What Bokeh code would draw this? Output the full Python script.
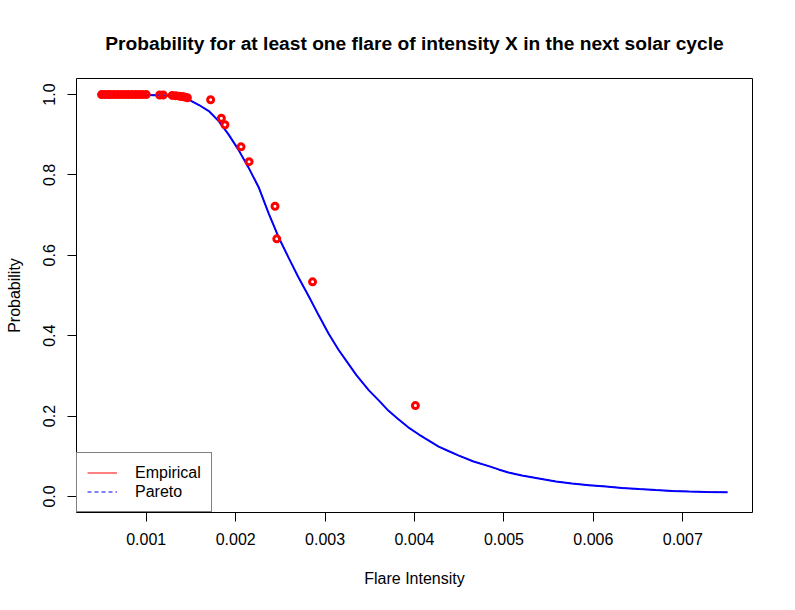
from bokeh.plotting import figure
from bokeh.models import FixedTicker, PrintfTickFormatter, Legend, LegendItem, Range1d
from bokeh.embed import file_html
from bokeh.resources import INLINE

# ---- data ----
curve_x = [0.0005, 0.0008, 0.0010, 0.0012, 0.0013, 0.00136, 0.00147, 0.00159, 0.00170, 0.00181,
           0.00192, 0.00203, 0.00214, 0.00226, 0.00237, 0.00248, 0.00259, 0.00270, 0.00282, 0.00293,
           0.00304, 0.00315, 0.00322, 0.00335, 0.00349, 0.00360, 0.00371, 0.00382, 0.00393, 0.00405,
           0.00416, 0.00427, 0.00436, 0.00449, 0.00466, 0.00483, 0.00494, 0.00505, 0.00520, 0.00539,
           0.00558, 0.00576, 0.00595, 0.00614, 0.00632, 0.00651, 0.00670, 0.00688, 0.00707, 0.00726,
           0.0075]
curve_y = [1.000, 1.000, 0.999, 0.998, 0.997, 0.994, 0.988, 0.974, 0.959, 0.934,
           0.901, 0.863, 0.820, 0.768, 0.704, 0.645, 0.595, 0.546, 0.497, 0.450,
           0.405, 0.365, 0.343, 0.302, 0.264, 0.239, 0.213, 0.192, 0.172, 0.154,
           0.139, 0.124, 0.115, 0.102, 0.087, 0.0754, 0.0672, 0.0597, 0.0523, 0.0448,
           0.0373, 0.0323, 0.0281, 0.0249, 0.0210, 0.0182, 0.0157, 0.0135, 0.0122, 0.0112,
           0.0105]

emp_x = [0.0005, 0.00053, 0.00057, 0.0006, 0.00064, 0.00068, 0.00072, 0.00076, 0.0008, 0.00084,
         0.00088, 0.00092, 0.00096, 0.001, 0.00115, 0.00119, 0.00129, 0.00133, 0.00137, 0.0014,
         0.00143, 0.00146, 0.00172, 0.00184, 0.00188, 0.00206, 0.00215, 0.00244, 0.00246, 0.00286,
         0.00401]
emp_y = [1.0, 1.0, 1.0, 1.0, 1.0, 1.0, 1.0, 1.0, 1.0, 1.0,
         1.0, 1.0, 1.0, 1.0, 0.999, 0.999, 0.998, 0.997, 0.996, 0.995,
         0.994, 0.992, 0.987, 0.941, 0.925, 0.870, 0.833, 0.722, 0.641, 0.534,
         0.226]

x_ticks = [0.001, 0.002, 0.003, 0.004, 0.005, 0.006, 0.007]
y_ticks = [0.0, 0.2, 0.4, 0.6, 0.8, 1.0]

title_text = "Probability for at least one flare of intensity X in the next solar cycle"
x_label = "Flare Intensity"
y_label = "Probability"
legend_labels = ["Empirical", "Pareto"]

FONT = "Liberation Sans"

p = figure(width=779, height=594,
           x_range=Range1d(0.00022, 0.00778), y_range=Range1d(-0.04, 1.04),
           output_backend="svg", toolbar_location=None,
           min_border_left=76, min_border_right=27, min_border_top=78, min_border_bottom=82)

p.title.text = title_text
p.title.text_font = FONT
p.title.text_font_size = "19.2px"
p.title.text_font_style = "bold"
p.title.text_color = "black"
p.title.align = "center"
p.title.vertical_align = "top"
p.title.standoff = 45

p.grid.visible = False
p.outline_line_color = "black"
p.outline_line_width = 1
p.background_fill_color = "white"
p.border_fill_color = "white"

for ax in (p.xaxis[0], p.yaxis[0]):
    ax.axis_line_color = None
    ax.major_tick_out = 9
    ax.major_tick_in = 0
    ax.minor_tick_out = 0
    ax.minor_tick_in = 0
    ax.major_tick_line_color = "black"
    ax.major_label_text_font = FONT
    ax.major_label_text_font_size = "16px"
    ax.major_label_text_color = "black"
    ax.axis_label_text_font = FONT
    ax.axis_label_text_font_size = "16px"
    ax.axis_label_text_font_style = "normal"
    ax.axis_label_text_color = "black"

p.xaxis.ticker = FixedTicker(ticks=x_ticks)
p.xaxis.formatter = PrintfTickFormatter(format="%.3f")
p.xaxis.axis_label = x_label
p.xaxis.major_label_standoff = 11
p.xaxis.axis_label_standoff = 22

p.yaxis.ticker = FixedTicker(ticks=y_ticks)
p.yaxis.formatter = PrintfTickFormatter(format="%.1f")
p.yaxis.axis_label = y_label
p.yaxis.major_label_orientation = "vertical"
p.yaxis.major_label_standoff = 12
p.yaxis.axis_label_standoff = 18

# legend sample lines (drawn underneath the fitted curve, hidden by it)
r_emp = p.line(curve_x, curve_y, line_color="red", line_width=1)
r_par = p.line(curve_x, curve_y, line_color="blue", line_width=1, line_dash="4 3")

# fitted curve
p.line(curve_x, curve_y, line_color="blue", line_width=2)
# empirical points
p.scatter(emp_x, emp_y, marker="circle", size=6, line_color="red", line_width=3, fill_color=None)

legend = Legend(items=[LegendItem(label=legend_labels[0], renderers=[r_emp]),
                       LegendItem(label=legend_labels[1], renderers=[r_par])],
                location="bottom_left", margin=0, padding=10, spacing=0,
                glyph_width=30, glyph_height=19, label_height=19, label_standoff=18,
                label_text_font=FONT, label_text_font_size="16px", label_text_color="black",
                border_line_color="black", border_line_width=1,
                background_fill_color="white", background_fill_alpha=1.0)
p.add_layout(legend)

open("out.html", "w").write(file_html(p, INLINE))
